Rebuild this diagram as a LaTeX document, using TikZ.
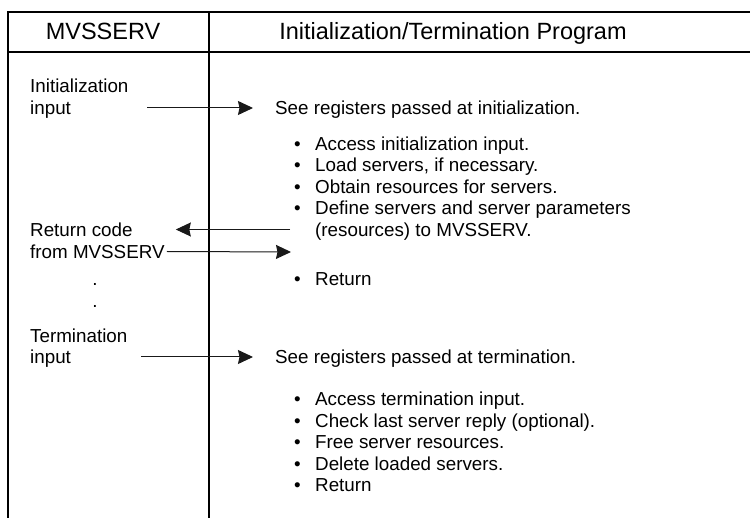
\documentclass[tikz,border=0pt]{standalone}
\usepackage{fontspec}
\setmainfont{Liberation Sans}
\usetikzlibrary{arrows.meta}
\usetikzlibrary{positioning}
\tikzstyle{txt}=[anchor=west,inner sep=0pt,text height=13.5pt,text depth=0pt,font=\fontsize{18.8}{22}\selectfont]
\tikzstyle{head}=[inner sep=0pt,text height=16.5pt,text depth=0pt,font=\fontsize{23.5}{27}\selectfont]
\newcommand{\itm}{\makebox[21pt][l]{\textbullet}}

\begin{document}
\begin{tikzpicture}[
 x=1pt,y=-1pt,
  flow/.style={-{Stealth[length=15pt,width=14pt,inset=1.5pt]},black!90,line width=1pt},
  frame/.style={black,line width=1.1pt},
]
\useasboundingbox (0,0) rectangle (750,518);
% table lines
\draw[frame] (750,12) -- (8,12) -- (8,518);
\draw[frame] (8,52) -- (750,52);
\draw[frame] (209,12) -- (209,518);

\node[head] (mvs) at (103,31) {MVSSERV};
\node[head] (prog) at (453,31) {Initialization/Termination Program};

% initialization
\node[txt] (initlbl) at (30,86) {Initialization};
\node[txt] (initinp) at (30,107.5) {input};
\node[txt] (initsee) at (275,108) {See registers passed at initialization.};
\node[txt] (iacc) at (294,143.5) {\itm Access initialization input.};
\node[txt] (iload) at (294,165) {\itm Load servers, if necessary.};
\node[txt] (iobt) at (294,186.5) {\itm Obtain resources for servers.};
\node[txt] (idef) at (294,208) {\itm Define servers and server parameters};
\node[txt] (ires) at (315,229.5) {(resources) to MVSSERV.};
\node[txt] (retcode) at (30,229.5) {Return code};
\node[txt] (retfrom) at (30,251.5) {from MVSSERV};
\node[txt] (iret) at (294,279) {\itm Return};

\node[txt,anchor=base] (dota) at (95,286) {.};
\node[txt,anchor=base] (dotb) at (95,308) {.};

% termination
\node[txt] (termlbl) at (30,336) {Termination};
\node[txt] (terminp) at (30,357) {input};
\node[txt] (termsee) at (275,357) {See registers passed at termination.};
\node[txt] (tacc) at (294,399) {\itm Access termination input.};
\node[txt] (tchk) at (294,420.5) {\itm Check last server reply (optional).};
\node[txt] (tfree) at (294,442) {\itm Free server resources.};
\node[txt] (tdel) at (294,463.5) {\itm Delete loaded servers.};
\node[txt] (tret) at (294,485) {\itm Return};

\coordinate (initsrc) at (147,108);
\coordinate (retin) at (291,252);
\coordinate (termsrc) at (141,357);

\draw[flow] (initsrc) -- ([xshift=-22pt]initsee.west);
\draw[flow] ([xshift=-25pt]ires.west) -- ([xshift=43pt]retcode.east);
\draw[flow] ([xshift=2pt]retfrom.east) -- (retin);
\draw[flow] (termsrc) -- ([xshift=-22pt]termsee.west);
\end{tikzpicture}
\end{document}
